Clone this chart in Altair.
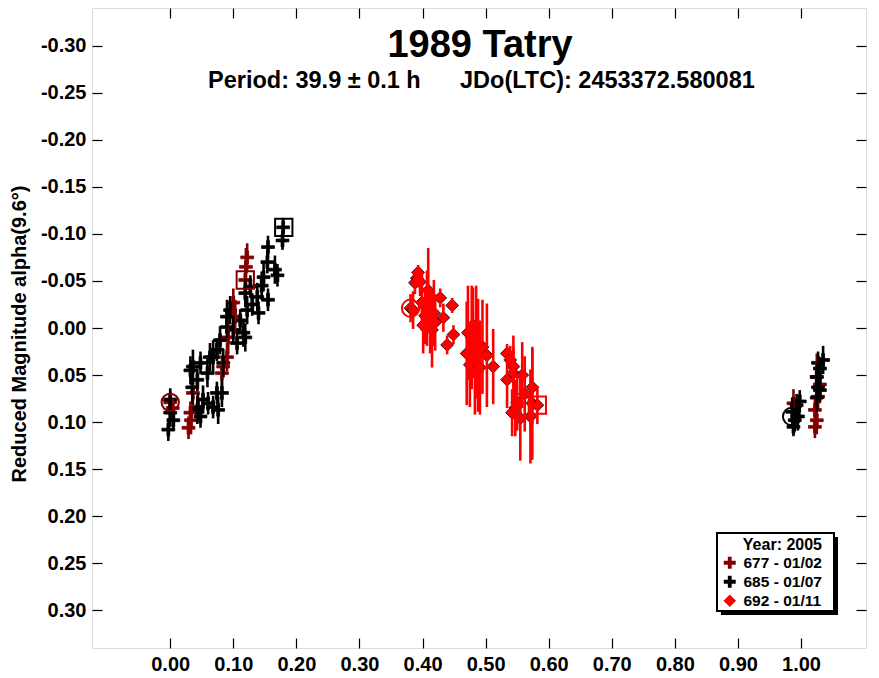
import altair as alt
import pandas as pd

FONT = "Liberation Sans"
S677 = "677 - 01/02"
S685 = "685 - 01/07"
S692 = "692 - 01/11"
SERIES = [S677, S685, S692]
COLORS = ["#840000", "#000000", "#ff0000"]

# ---- session 677 (dark red crosses) ----
p677 = [0.000, 0.004, 0.032, 0.033, 0.029, 0.036, 0.082, 0.084, 0.090, 0.092, 0.100,
        0.103, 0.119, 0.120, 0.122, 0.988, 1.022, 1.025, 1.027, 1.022, 1.025, 1.030]
m677 = [0.079, 0.085, 0.090, 0.098, 0.106, 0.069, 0.048, 0.041, 0.031, 0.010, -0.027,
        -0.012, -0.051, -0.065, -0.075, 0.080, 0.087, 0.098, 0.073, 0.105, 0.052, 0.060]
e677 = [0.012, 0.010, 0.012, 0.015, 0.012, 0.015, 0.015, 0.012, 0.015, 0.018, 0.015,
        0.018, 0.020, 0.020, 0.015, 0.015, 0.012, 0.015, 0.015, 0.012, 0.025, 0.020]

# ---- session 685 (black crosses) ----
p685 = [0.000, 0.000, 0.005, -0.003, 0.044, 0.060, 0.052, 0.074, 0.035, 0.059, 0.043,
        0.032, 0.036, 0.048, 0.084, 0.063, 0.068, 0.074, 0.079, 0.090, 0.119, 0.106,
        0.116, 0.090, 0.095, 0.111, 0.122, 0.140, 0.119, 0.127, 0.138, 0.155, 0.148,
        0.170, 0.166, 0.154, 0.155, 0.178, 0.179,
        0.082, 0.068, 0.076, 0.048, 0.043, 0.100, 0.130, 0.145,
        0.986, 0.990, 0.995, 0.993, 0.998, 0.988, 1.025, 1.030, 1.027, 1.025, 1.027,
        1.030, 1.035]
m685 = [0.076, 0.090, 0.098, 0.108, 0.084, 0.080, 0.076, 0.069, 0.063, 0.048, 0.055,
        0.045, 0.041, 0.037, 0.037, 0.031, 0.031, 0.023, 0.013, -0.001, 0.010, 0.016,
        0.005, -0.012, -0.019, -0.008, -0.019, -0.016, -0.037, -0.044, -0.033, -0.030,
        -0.054, -0.056, -0.062, -0.070, -0.086, -0.093, -0.107,
        0.069, 0.084, 0.087, 0.094, 0.087, 0.002, -0.025, -0.045,
        0.089, 0.098, 0.094, 0.082, 0.078, 0.105, 0.074, 0.066, 0.063, 0.052, 0.037,
        0.043, 0.034]
e685 = [0.012, 0.015, 0.010, 0.012, 0.015, 0.012, 0.015, 0.012, 0.018, 0.015, 0.012,
        0.015, 0.018, 0.012, 0.015, 0.015, 0.018, 0.012, 0.015, 0.012, 0.015, 0.012,
        0.015, 0.018, 0.015, 0.012, 0.015, 0.012, 0.015, 0.012, 0.015, 0.012, 0.015,
        0.012, 0.015, 0.012, 0.012, 0.010, 0.010,
        0.015, 0.012, 0.015, 0.012, 0.015, 0.015, 0.012, 0.015,
        0.015, 0.012, 0.015, 0.012, 0.012, 0.010, 0.015, 0.012, 0.015, 0.015, 0.012,
        0.012, 0.015]

# ---- session 692 (red diamonds) ----
p692 = [0.381, 0.385, 0.393, 0.391, 0.388, 0.396, 0.399, 0.409, 0.428, 0.447, 0.433,
        0.407, 0.412, 0.401, 0.420, 0.415, 0.449, 0.439, 0.404, 0.418,
        0.472, 0.480, 0.470, 0.475, 0.488, 0.491, 0.502, 0.512, 0.483, 0.485, 0.495,
        0.478,
        0.534, 0.539, 0.544, 0.534, 0.544, 0.558, 0.574, 0.550, 0.547, 0.542, 0.555,
        0.574, 0.571, 0.562, 0.582]
m692 = [-0.021, -0.019, -0.059, -0.053, -0.048, -0.049, -0.027, -0.040, -0.032, -0.024,
        -0.011, -0.021, -0.008, -0.003, -0.006, 0.002, 0.007, 0.018, -0.013, -0.016,
        0.005, -0.003, 0.027, 0.039, 0.029, 0.042, 0.029, 0.041, 0.047, 0.015, 0.020,
        0.010,
        0.027, 0.034, 0.041, 0.055, 0.048, 0.050, 0.063, 0.079, 0.085, 0.090, 0.096,
        0.080, 0.094, 0.070, 0.082]
e692 = [0.015, 0.020, 0.008, 0.010, 0.012, 0.015, 0.030, 0.045, 0.010, 0.008, 0.015,
        0.040, 0.035, 0.030, 0.030, 0.040, 0.010, 0.010, 0.030, 0.035,
        0.050, 0.040, 0.055, 0.045, 0.060, 0.050, 0.055, 0.040, 0.045, 0.060, 0.050,
        0.055,
        0.010, 0.015, 0.020, 0.030, 0.040, 0.035, 0.040, 0.030, 0.030, 0.025, 0.045,
        0.060, 0.050, 0.040, 0.020]

# first / last observation of each session (open circle / open square)
start_series = [S677, S685, S692]
start_phase = [0.000, 0.985, 0.381]
start_mag = [0.079, 0.094, -0.021]
end_series = [S677, S685, S692]
end_phase = [0.119, 0.180, 0.582]
end_mag = [-0.051, -0.107, 0.082]

x_ticks = [0.0, 0.1, 0.2, 0.3, 0.4, 0.5, 0.6, 0.7, 0.8, 0.9, 1.0]
y_ticks = [-0.30, -0.25, -0.20, -0.15, -0.10, -0.05, 0.00, 0.05, 0.10, 0.15, 0.20, 0.25, 0.30]

title_text = "1989 Tatry"
sub_left = "Period: 39.9 ± 0.1 h"
sub_right = "JDo(LTC): 2453372.580081"
y_title = "Reduced Magnitude alpha(9.6°)"
legend_title = "Year: 2005"

rows = []
for name, ph, mg, er in [(S677, p677, m677, e677), (S685, p685, m685, e685), (S692, p692, m692, e692)]:
    for a, b, c in zip(ph, mg, er):
        rows.append({"series": name, "phase": a, "mag": b, "lo": b - c, "hi": b + c})
df = pd.DataFrame(rows)
df_start = pd.DataFrame({"series": start_series, "phase": start_phase, "mag": start_mag})
df_end = pd.DataFrame({"series": end_series, "phase": end_phase, "mag": end_mag})

W, H = 774, 640
xscale = alt.Scale(domain=[-0.124, 1.103], nice=False, zero=False)
yscale = alt.Scale(domain=[-0.34, 0.34], reverse=True, nice=False, zero=False)
color_scale = alt.Scale(domain=SERIES, range=COLORS)
PLUS = "M-1,-0.22H-0.22V-1H0.22V-0.22H1V0.22H0.22V1H-0.22V0.22H-1Z"
shape_scale = alt.Scale(domain=SERIES, range=[PLUS, PLUS, "diamond"])
stroke_scale = alt.Scale(domain=SERIES, range=["#840000", "#000000", "#000000"])

TICK = 10
lab = dict(labelFont=FONT, labelFontSize=20, labelFontWeight="bold", labelColor="black",
           tickColor="black", tickWidth=1.2, tickSize=TICK, offset=-TICK, domain=False,
           grid=False, title=None)
x_axis = alt.Axis(orient="bottom", values=x_ticks, format=".2f", labelPadding=6, **lab)
y_axis = alt.Axis(orient="left", values=y_ticks, labelPadding=6,
                  labelExpr="replace(format(datum.value, '.2f'), '\u2212', '-')", **lab)
x_axis_top = alt.Axis(orient="top", values=x_ticks, labels=False, **lab)
y_axis_right = alt.Axis(orient="right", values=y_ticks, labels=False, **lab)

legend = alt.Legend(orient="none", legendX=630, legendY=529, title=legend_title,
                    titleFont=FONT, titleFontSize=16, titleFontWeight="bold", titleColor="black",
                    titleAnchor="end", titlePadding=2,
                    labelFont=FONT, labelFontSize=15.5, labelFontWeight="bold", labelColor="black",
                    symbolSize=110, rowPadding=1, labelOffset=6, padding=0)

errbars = alt.Chart(df).mark_rule(strokeWidth=2.6).encode(
    x=alt.X("phase:Q", scale=xscale, axis=x_axis_top),
    y=alt.Y("lo:Q", scale=yscale, axis=y_axis_right),
    y2="hi:Q",
    color=alt.Color("series:N", scale=color_scale, legend=None),
)

points = alt.Chart(df).mark_point(filled=True, size=165, strokeWidth=0.8, opacity=1).encode(
    x=alt.X("phase:Q", scale=xscale, axis=x_axis),
    y=alt.Y("mag:Q", scale=yscale, axis=y_axis),
    color=alt.Color("series:N", scale=color_scale, legend=legend),
    shape=alt.Shape("series:N", scale=shape_scale, legend=legend),
    stroke=alt.Stroke("series:N", scale=stroke_scale, legend=legend),
)

starts = alt.Chart(df_start).mark_point(shape="circle", filled=False, size=300, strokeWidth=2,
                                        opacity=1).encode(
    x=alt.X("phase:Q", scale=xscale, axis=None),
    y=alt.Y("mag:Q", scale=yscale, axis=None),
    color=alt.Color("series:N", scale=color_scale, legend=None),
)
ends = alt.Chart(df_end).mark_point(shape="square", filled=False, size=300, strokeWidth=2,
                                    opacity=1).encode(
    x=alt.X("phase:Q", scale=xscale, axis=None),
    y=alt.Y("mag:Q", scale=yscale, axis=None),
    color=alt.Color("series:N", scale=color_scale, legend=None),
)

one = pd.DataFrame({"t": [0]})
shadow = alt.Chart(one).mark_rect(color="black").encode(
    x=alt.value(629), x2=alt.value(746), y=alt.value(529), y2=alt.value(607))
box = alt.Chart(one).mark_rect(fill="white", stroke="black", strokeWidth=2).encode(
    x=alt.value(625), x2=alt.value(742), y=alt.value(525), y2=alt.value(603))

txt = dict(font=FONT, fontWeight="bold", color="black")
title = alt.Chart(pd.DataFrame({"t": [title_text]})).mark_text(
    fontSize=38, align="center", baseline="alphabetic", **txt).encode(
    x=alt.value(388), y=alt.value(49), text="t:N")
subl = alt.Chart(pd.DataFrame({"t": [sub_left]})).mark_text(
    fontSize=23.5, align="left", baseline="alphabetic", **txt).encode(
    x=alt.value(116), y=alt.value(80), text="t:N")
subr = alt.Chart(pd.DataFrame({"t": [sub_right]})).mark_text(
    fontSize=23.5, align="left", baseline="alphabetic", **txt).encode(
    x=alt.value(368), y=alt.value(80), text="t:N")
ytitle = alt.Chart(pd.DataFrame({"t": [y_title]})).mark_text(
    fontSize=20, align="center", baseline="middle", angle=270, **txt).encode(
    x=alt.value(-72), y=alt.value(326), text="t:N")

chart = alt.layer(points, errbars, starts, ends, shadow, box, title, subl, subr, ytitle).resolve_axis(
    x="independent", y="independent"
).properties(
    width=W, height=H,
    autosize=alt.AutoSizeParams(type="none"),
    padding={"left": 84, "top": 0, "right": 5, "bottom": 28},
).configure_view(stroke="black", strokeWidth=3).configure(background="white")

chart.save("out.html", embed_options={"renderer": "svg", "actions": False})
